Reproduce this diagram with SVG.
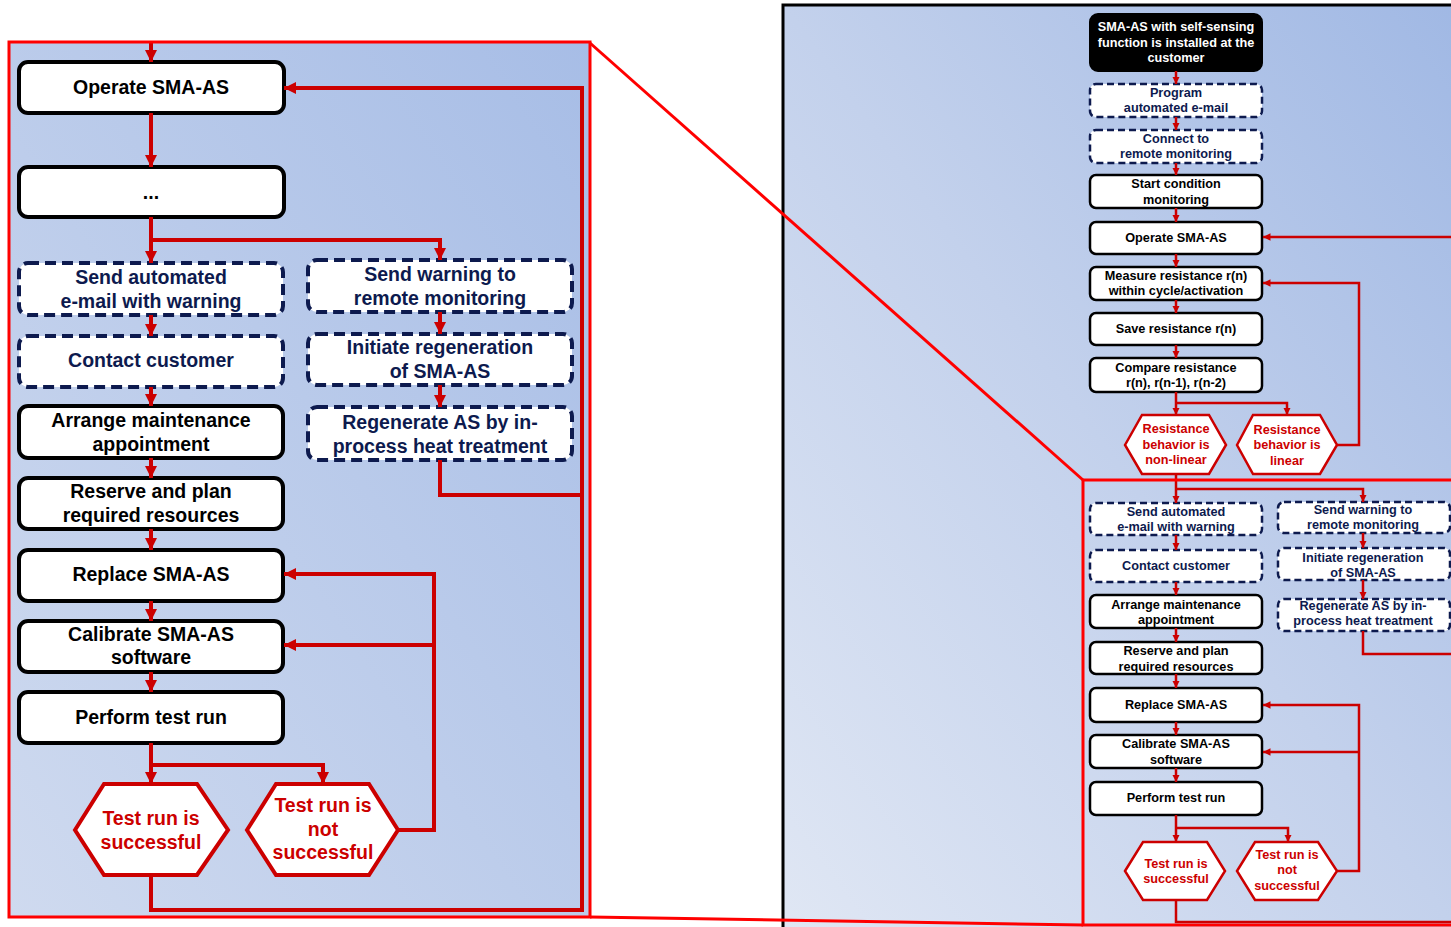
<svg xmlns="http://www.w3.org/2000/svg" width="1451" height="927" viewBox="0 0 1451 927">
<defs>
<linearGradient id="gL" x1="0" y1="1" x2="1" y2="0">
<stop offset="0" stop-color="#cfdaef"/>
<stop offset="1" stop-color="#a7bde6"/>
</linearGradient>
<linearGradient id="gR" x1="0" y1="1" x2="1" y2="0">
<stop offset="0" stop-color="#e0e7f4"/>
<stop offset="0.5" stop-color="#c3d1ec"/>
<stop offset="1" stop-color="#a0b8e4"/>
</linearGradient>
<marker id="ah" viewBox="0 0 10 10" refX="10" refY="5" markerWidth="3" markerHeight="3" orient="auto" markerUnits="strokeWidth">
<path d="M0,0 L10,5 L0,10 z" fill="#cc0000"/>
</marker>
<style>
text{font-family:"Liberation Sans",Arial,sans-serif;font-weight:bold;text-anchor:middle;dominant-baseline:central}
.L{font-size:19.5px}
.R{font-size:12.7px}
.bk{fill:#000}
.nv{fill:#0d1a4e}
.rd{fill:#cc0000}
.wt{fill:#fff}
.sL{fill:#fff;stroke:#000;stroke-width:4}
.dL{fill:#fff;stroke:#0d1a4e;stroke-width:4;stroke-dasharray:11 6}
.hL{fill:#fff;stroke:#cc0000;stroke-width:4}
.sR{fill:#fff;stroke:#000;stroke-width:2.5}
.dR{fill:#fff;stroke:#0d1a4e;stroke-width:2.5;stroke-dasharray:7 4}
.hR{fill:#fff;stroke:#cc0000;stroke-width:2.5}
.cL path{fill:none;stroke:#cc0000;stroke-width:4}
.cR path{fill:none;stroke:#cc0000;stroke-width:2.5}
.a{marker-end:url(#ah)}
.frame{fill:none;stroke:#ff0000;stroke-width:3}
</style>
</defs>
<rect x="0" y="0" width="1451" height="927" fill="#fff"/>
<!-- panels -->
<rect x="9" y="42" width="581" height="875" fill="url(#gL)"/>
<rect x="783" y="5" width="680" height="935" fill="url(#gR)" stroke="#000" stroke-width="3"/>

<!-- LEFT PANEL nodes -->
<g id="L-operate"><rect class="sL" x="19" y="62" width="265" height="51" rx="9"/><text class="L bk" x="151" y="87">Operate SMA-AS</text></g>
<g id="L-dots"><rect class="sL" x="19" y="167" width="265" height="50" rx="9"/><text class="L bk" x="151" y="192">...</text></g>
<g id="L-sendmail"><rect class="dL" x="19" y="263" width="264" height="52" rx="9"/><text class="L nv" x="151" y="277">Send automated</text><text class="L nv" x="151" y="301">e-mail with warning</text></g>
<g id="L-sendwarn"><rect class="dL" x="308" y="260" width="264" height="52" rx="9"/><text class="L nv" x="440" y="274">Send warning to</text><text class="L nv" x="440" y="298">remote monitoring</text></g>
<g id="L-contact"><rect class="dL" x="19" y="336" width="264" height="51" rx="9"/><text class="L nv" x="151" y="360">Contact customer</text></g>
<g id="L-initiate"><rect class="dL" x="308" y="334" width="264" height="51" rx="9"/><text class="L nv" x="440" y="347">Initiate regeneration</text><text class="L nv" x="440" y="371">of SMA-AS</text></g>
<g id="L-arrange"><rect class="sL" x="19" y="406" width="264" height="52" rx="9"/><text class="L bk" x="151" y="420">Arrange maintenance</text><text class="L bk" x="151" y="444">appointment</text></g>
<g id="L-regen"><rect class="dL" x="308" y="407" width="264" height="53" rx="9"/><text class="L nv" x="440" y="422">Regenerate AS by in-</text><text class="L nv" x="440" y="446">process heat treatment</text></g>
<g id="L-reserve"><rect class="sL" x="19" y="478" width="264" height="51" rx="9"/><text class="L bk" x="151" y="491">Reserve and plan</text><text class="L bk" x="151" y="515">required resources</text></g>
<g id="L-replace"><rect class="sL" x="19" y="550" width="264" height="51" rx="9"/><text class="L bk" x="151" y="574">Replace SMA-AS</text></g>
<g id="L-calibrate"><rect class="sL" x="19" y="621" width="264" height="51" rx="9"/><text class="L bk" x="151" y="634">Calibrate SMA-AS</text><text class="L bk" x="151" y="657">software</text></g>
<g id="L-perform"><rect class="sL" x="19" y="692" width="264" height="51" rx="9"/><text class="L bk" x="151" y="717">Perform test run</text></g>
<g id="L-success"><polygon class="hL" points="75,830 104,784 197,784 228,830 197,875 104,875"/><text class="L rd" x="151" y="818">Test run is</text><text class="L rd" x="151" y="842">successful</text></g>
<g id="L-fail"><polygon class="hL" points="247,830 276,784 369,784 398,830 369,875 276,875"/><text class="L rd" x="323" y="805">Test run is</text><text class="L rd" x="323" y="829">not</text><text class="L rd" x="323" y="852">successful</text></g>

<!-- LEFT connectors -->
<g id="L-connectors" class="cL">
<path class="a" d="M151,42 V62"/>
<path class="a" d="M151,113 V167"/>
<path class="a" d="M151,217 V263"/>
<path class="a" d="M151,240 H440 V260"/>
<path class="a" d="M151,315 V336"/>
<path class="a" d="M151,387 V406"/>
<path class="a" d="M151,458 V478"/>
<path class="a" d="M151,529 V550"/>
<path class="a" d="M151,601 V621"/>
<path class="a" d="M151,672 V692"/>
<path class="a" d="M151,743 V784"/>
<path class="a" d="M151,765 H323 V784"/>
<path class="a" d="M440,312 V334"/>
<path class="a" d="M440,385 V407"/>
<path d="M440,460 V495 H582"/>
<path class="a" d="M151,875 V910 H582 V88 H284"/>
<path class="a" d="M398,830 H434 V574 H284"/>
<path class="a" d="M434,645 H284"/>
</g>

<!-- RIGHT PANEL nodes -->
<g id="R-installed"><rect x="1090" y="14" width="172" height="57" rx="8" fill="#000" stroke="#000" stroke-width="2"/><text class="R wt" x="1176" y="27">SMA-AS with self-sensing</text><text class="R wt" x="1176" y="43">function is installed at the</text><text class="R wt" x="1176" y="58">customer</text></g>
<g id="R-program"><rect class="dR" x="1090" y="84" width="172" height="33" rx="6"/><text class="R nv" x="1176" y="93">Program</text><text class="R nv" x="1176" y="108">automated e-mail</text></g>
<g id="R-connect"><rect class="dR" x="1090" y="130" width="172" height="33" rx="6"/><text class="R nv" x="1176" y="139">Connect to</text><text class="R nv" x="1176" y="154">remote monitoring</text></g>
<g id="R-start"><rect class="sR" x="1090" y="175" width="172" height="33" rx="6"/><text class="R bk" x="1176" y="184">Start condition</text><text class="R bk" x="1176" y="200">monitoring</text></g>
<g id="R-operate"><rect class="sR" x="1090" y="222" width="172" height="32" rx="6"/><text class="R bk" x="1176" y="238">Operate SMA-AS</text></g>
<g id="R-measure"><rect class="sR" x="1090" y="267" width="172" height="33" rx="6"/><text class="R bk" x="1176" y="276">Measure resistance r(n)</text><text class="R bk" x="1176" y="291">within  cycle/activation</text></g>
<g id="R-save"><rect class="sR" x="1090" y="313" width="172" height="32" rx="6"/><text class="R bk" x="1176" y="329">Save resistance r(n)</text></g>
<g id="R-compare"><rect class="sR" x="1090" y="358" width="172" height="34" rx="6"/><text class="R bk" x="1176" y="368">Compare resistance</text><text class="R bk" x="1176" y="383">r(n), r(n-1), r(n-2)</text></g>
<g id="R-nonlinear"><polygon class="hR" points="1125,445 1142,415 1209,415 1226,445 1209,474 1142,474"/><text class="R rd" x="1176" y="429">Resistance</text><text class="R rd" x="1176" y="445">behavior is</text><text class="R rd" x="1176" y="460">non-linear</text></g>
<g id="R-linear"><polygon class="hR" points="1237,445 1253,415 1320,415 1337,445 1320,474 1253,474"/><text class="R rd" x="1287" y="430">Resistance</text><text class="R rd" x="1287" y="445">behavior is</text><text class="R rd" x="1287" y="461">linear</text></g>
<g id="R-sendmail"><rect class="dR" x="1090" y="503" width="172" height="32" rx="6"/><text class="R nv" x="1176" y="512">Send automated</text><text class="R nv" x="1176" y="527">e-mail with warning</text></g>
<g id="R-sendwarn"><rect class="dR" x="1278" y="502" width="172" height="31" rx="6"/><text class="R nv" x="1363" y="510">Send warning to</text><text class="R nv" x="1363" y="525">remote monitoring</text></g>
<g id="R-contact"><rect class="dR" x="1090" y="550" width="172" height="32" rx="6"/><text class="R nv" x="1176" y="566">Contact customer</text></g>
<g id="R-initiate"><rect class="dR" x="1278" y="548" width="172" height="32" rx="6"/><text class="R nv" x="1363" y="558">Initiate regeneration</text><text class="R nv" x="1363" y="573">of SMA-AS</text></g>
<g id="R-arrange"><rect class="sR" x="1090" y="595" width="172" height="33" rx="6"/><text class="R bk" x="1176" y="605">Arrange maintenance</text><text class="R bk" x="1176" y="620">appointment</text></g>
<g id="R-regen"><rect class="dR" x="1278" y="599" width="172" height="32" rx="6"/><text class="R nv" x="1363" y="606">Regenerate AS by in-</text><text class="R nv" x="1363" y="621">process heat treatment</text></g>
<g id="R-reserve"><rect class="sR" x="1090" y="642" width="172" height="32" rx="6"/><text class="R bk" x="1176" y="651">Reserve and plan</text><text class="R bk" x="1176" y="667">required resources</text></g>
<g id="R-replace"><rect class="sR" x="1090" y="688" width="172" height="34" rx="6"/><text class="R bk" x="1176" y="705">Replace SMA-AS</text></g>
<g id="R-calibrate"><rect class="sR" x="1090" y="735" width="172" height="33" rx="6"/><text class="R bk" x="1176" y="744">Calibrate SMA-AS</text><text class="R bk" x="1176" y="760">software</text></g>
<g id="R-perform"><rect class="sR" x="1090" y="782" width="172" height="33" rx="6"/><text class="R bk" x="1176" y="798">Perform test run</text></g>
<g id="R-success"><polygon class="hR" points="1125,871 1143,842 1207,842 1225,871 1207,900 1143,900"/><text class="R rd" x="1176" y="864">Test run is</text><text class="R rd" x="1176" y="879">successful</text></g>
<g id="R-fail"><polygon class="hR" points="1237,871 1255,842 1318,842 1337,871 1318,900 1255,900"/><text class="R rd" x="1287" y="855">Test run is</text><text class="R rd" x="1287" y="870">not</text><text class="R rd" x="1287" y="886">successful</text></g>

<!-- RIGHT connectors -->
<g id="R-connectors" class="cR">
<path class="a" d="M1176,71 V84"/>
<path class="a" d="M1176,117 V130"/>
<path class="a" d="M1176,163 V175"/>
<path class="a" d="M1176,208 V222"/>
<path class="a" d="M1176,254 V267"/>
<path class="a" d="M1176,300 V313"/>
<path class="a" d="M1176,345 V358"/>
<path class="a" d="M1176,392 V415"/>
<path class="a" d="M1176,403 H1287 V415"/>
<path class="a" d="M1337,445 H1359 V283 H1263"/>
<path class="a" d="M1451,237 H1263"/>
<path class="a" d="M1176,474 V503"/>
<path class="a" d="M1176,489 H1363 V502"/>
<path class="a" d="M1363,533 V548"/>
<path class="a" d="M1363,580 V599"/>
<path d="M1363,631 V654 H1451"/>
<path class="a" d="M1176,535 V550"/>
<path class="a" d="M1176,582 V595"/>
<path class="a" d="M1176,628 V642"/>
<path class="a" d="M1176,674 V688"/>
<path class="a" d="M1176,722 V735"/>
<path class="a" d="M1176,768 V782"/>
<path class="a" d="M1176,815 V842"/>
<path class="a" d="M1176,828 H1288 V842"/>
<path class="a" d="M1337,871 H1359 V705 H1263"/>
<path class="a" d="M1359,752 H1263"/>
<path d="M1176,900 V922 H1451"/>
</g>

<!-- zoom frames -->
<g id="zoom-frames">
<rect class="frame" x="9" y="42" width="581" height="875"/>
<rect class="frame" x="1083" y="480" width="380" height="445"/>
<path class="frame" d="M590,43 L1083,480"/>
<path class="frame" d="M590,917 L1083,925"/>
</g>
</svg>
